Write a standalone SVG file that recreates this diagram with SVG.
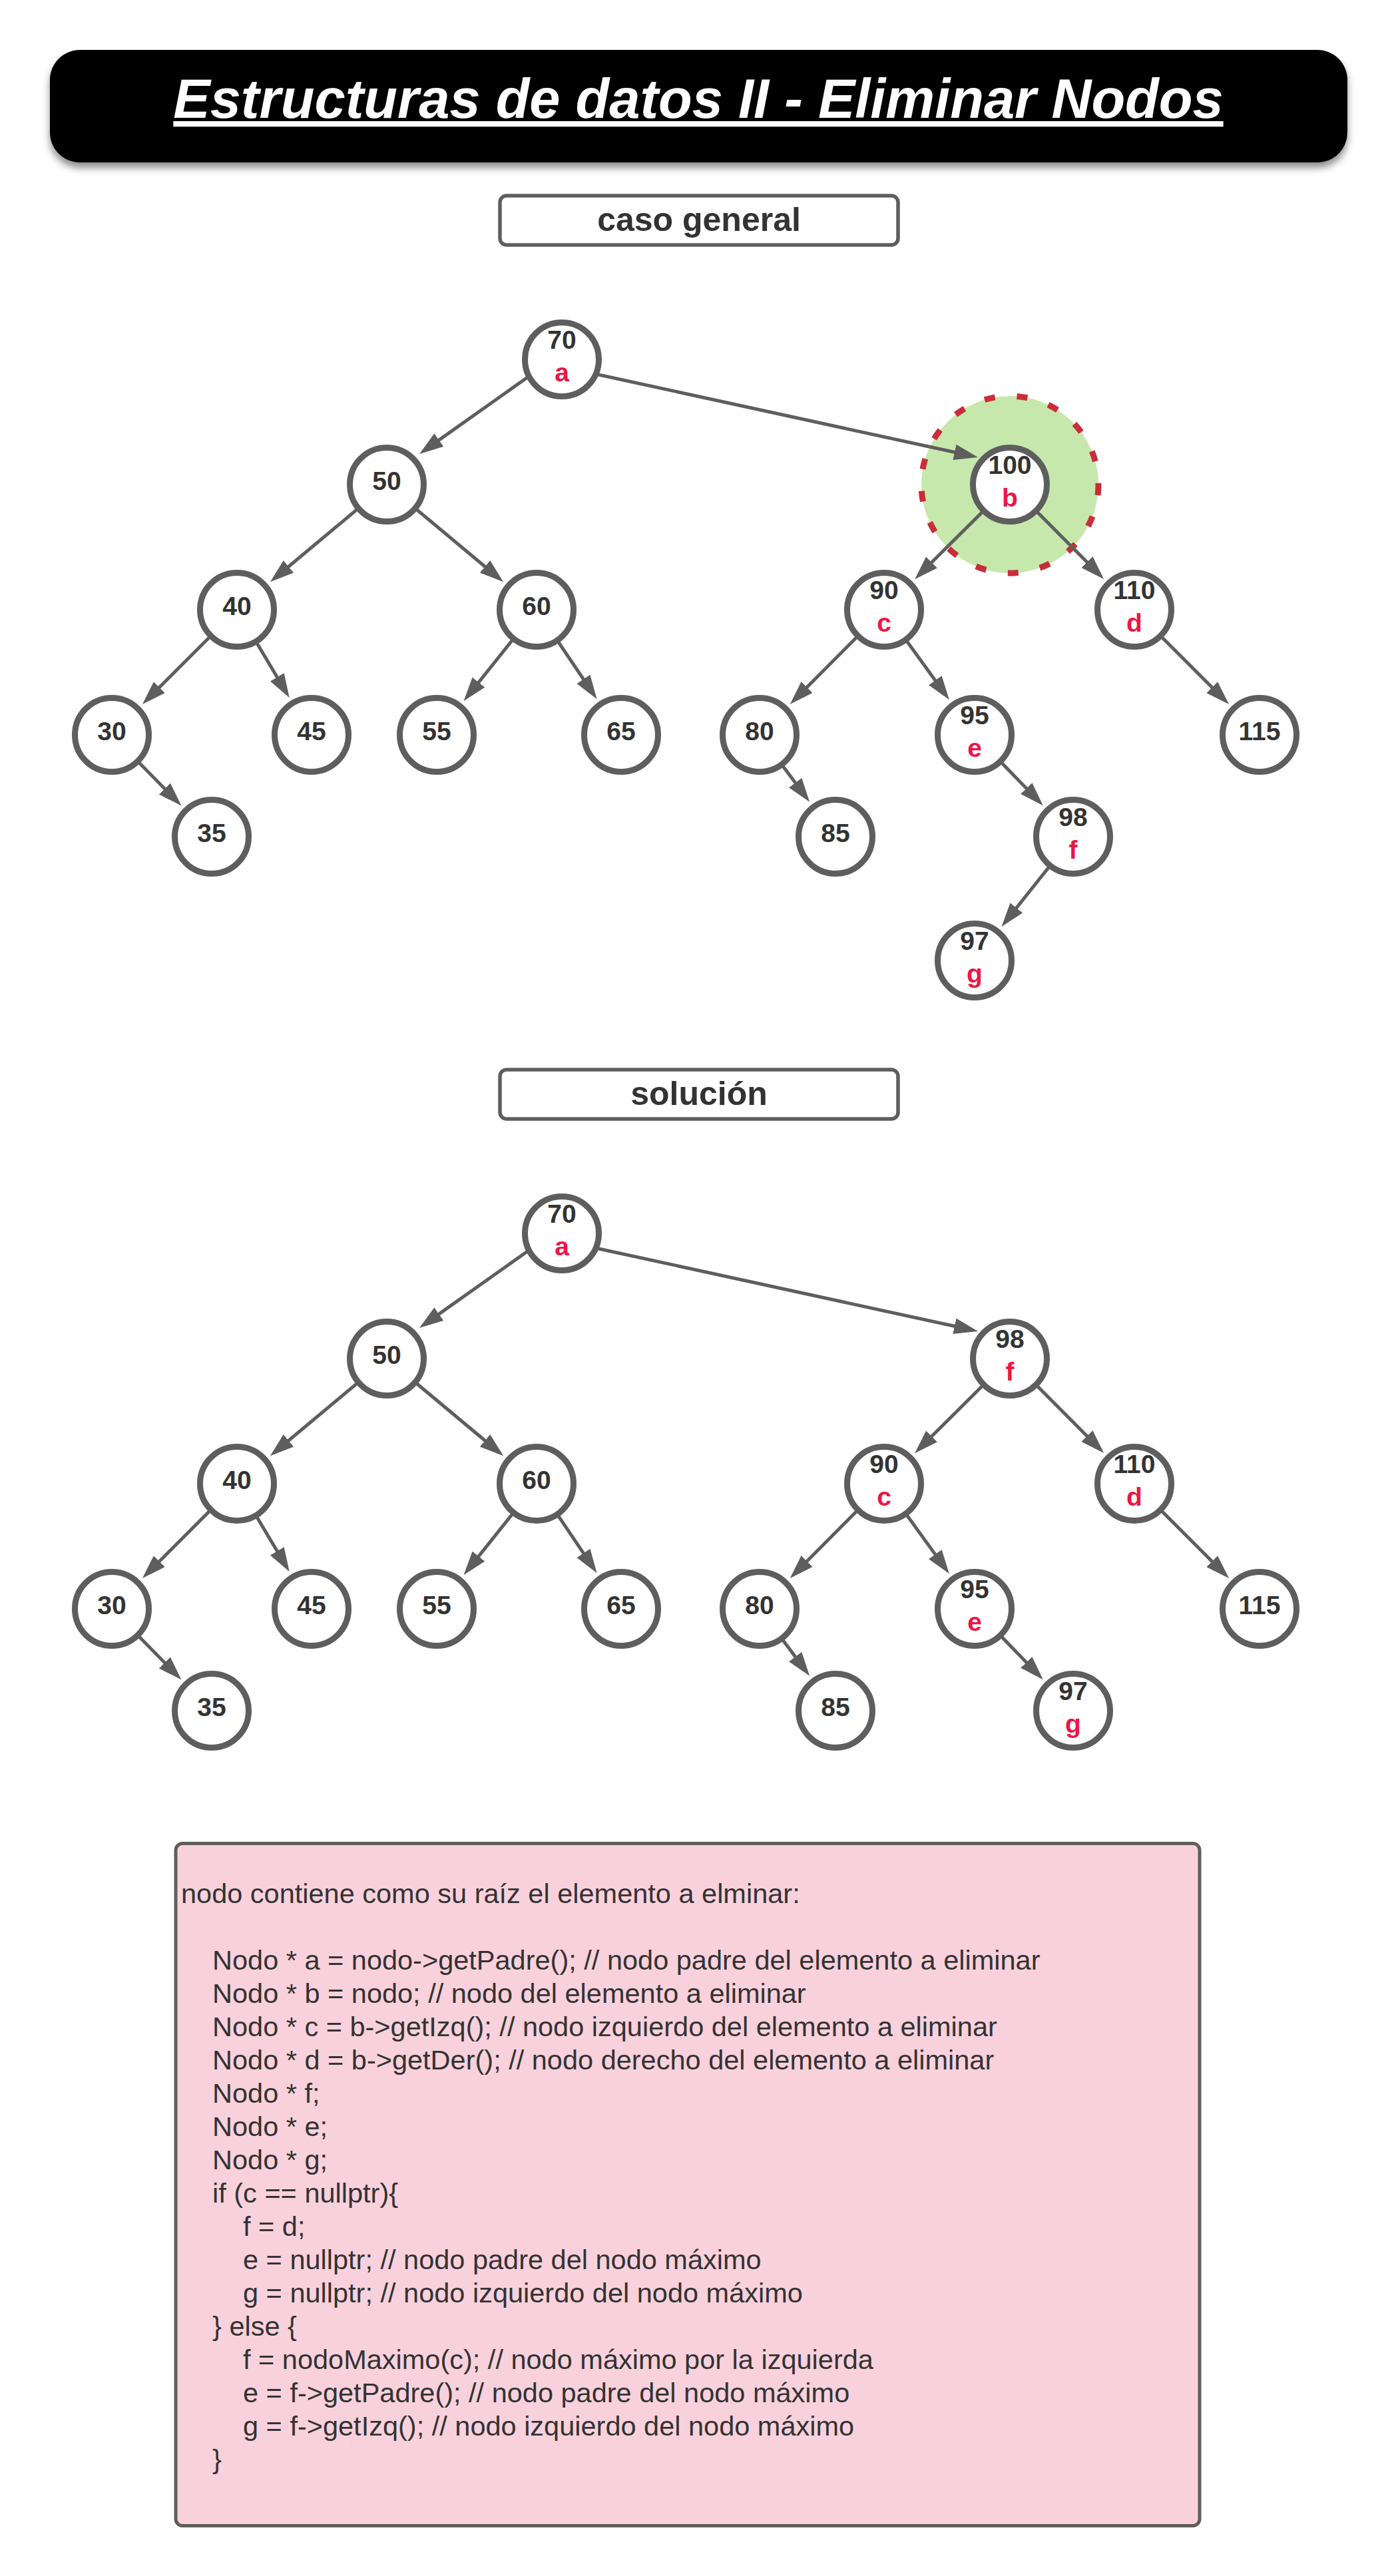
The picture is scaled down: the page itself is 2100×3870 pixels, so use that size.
<svg xmlns="http://www.w3.org/2000/svg" width="2100" height="3870" viewBox="0 0 2100 3870">
<defs>
<style>
.node circle{fill:#ffffff;stroke:#5e5e5e;stroke-width:9}
.num{font-family:"Liberation Sans",Arial,sans-serif;font-weight:bold;font-size:39px;fill:#333333;text-anchor:middle}
.lbl{font-family:"Liberation Sans",Arial,sans-serif;font-weight:bold;font-size:39px;fill:#ee1547;text-anchor:middle}
.edge{stroke:#5e5e5e;stroke-width:5;fill:none;marker-end:url(#ah)}
.box{fill:#ffffff;stroke:#5e5e5e;stroke-width:5.5}
.hdr{font-family:"Liberation Sans",Arial,sans-serif;font-weight:bold;font-size:50px;fill:#333333;text-anchor:middle}
.code{font-family:"Liberation Sans",Arial,sans-serif;font-size:41.5px;fill:#333333}
</style>
<marker id="ah" markerUnits="userSpaceOnUse" markerWidth="36" markerHeight="24" viewBox="0 0 36 24" refX="16" refY="12" orient="auto">
<path d="M0,0 L36,12 L0,24 z" fill="#5e5e5e"/>
</marker>
<filter id="shadow" x="-5%" y="-20%" width="110%" height="150%">
<feDropShadow dx="0" dy="8" stdDeviation="6" flood-color="#000000" flood-opacity="0.45"/>
</filter>
</defs>

<g id="title">
<rect x="75" y="75" width="1949" height="169" rx="45" ry="45" fill="#000000" filter="url(#shadow)"/>
<text x="1049" y="177" font-family="'Liberation Sans',Arial,sans-serif" font-weight="bold" font-style="italic" font-size="83" fill="#ffffff" text-anchor="middle" text-decoration="underline">Estructuras de datos II - Eliminar Nodos</text>
</g>

<g id="label-caso-general">
<rect class="box" x="751" y="294" width="598" height="74" rx="10" ry="10"/>
<text class="hdr" x="1050" y="347">caso general</text>
</g>

<g id="highlight-b">
<circle cx="1517" cy="728" r="133" fill="#c7e8ac" stroke="#c92d39" stroke-width="9" stroke-dasharray="16 33"/>
</g>

<g id="connectors">
<path class="edge" d="M795,565 L646.3,670.4"/>
<path class="edge" d="M895,562 L1449.5,682.8"/>
<path class="edge" d="M581,728 L421.2,861.5"/>
<path class="edge" d="M581,728 L740.8,861.5"/>
<path class="edge" d="M356,916 L228.1,1043.9"/>
<path class="edge" d="M356,916 L424.5,1031"/>
<path class="edge" d="M806,916 L709,1037.6"/>
<path class="edge" d="M806,916 L885.4,1033.6"/>
<path class="edge" d="M168,1104 L258.5,1196.3"/>
<path class="edge" d="M1517,728 L1388.3,856.1"/>
<path class="edge" d="M1517,728 L1644.1,855.7"/>
<path class="edge" d="M1328,916 L1200.9,1043.7"/>
<path class="edge" d="M1328,916 L1414.2,1035.1"/>
<path class="edge" d="M1141,1104 L1204.2,1188.8"/>
<path class="edge" d="M1464,1104 L1552.9,1195.9"/>
<path class="edge" d="M1612,1257 L1516.9,1376.5"/>
<path class="edge" d="M1704,916 L1831.9,1043.9"/>

<path class="edge" d="M795,1878 L646.3,1983.4"/>
<path class="edge" d="M895,1875 L1449.5,1995.8"/>
<path class="edge" d="M581,2041 L421.2,2174.5"/>
<path class="edge" d="M581,2041 L740.8,2174.5"/>
<path class="edge" d="M356,2229 L228.1,2356.9"/>
<path class="edge" d="M356,2229 L424.5,2344"/>
<path class="edge" d="M806,2229 L709,2350.6"/>
<path class="edge" d="M806,2229 L885.4,2346.6"/>
<path class="edge" d="M168,2417 L258.5,2509.3"/>
<path class="edge" d="M1517,2041 L1388.3,2169.1"/>
<path class="edge" d="M1517,2041 L1644.1,2168.7"/>
<path class="edge" d="M1328,2229 L1200.9,2356.7"/>
<path class="edge" d="M1328,2229 L1414.2,2348.1"/>
<path class="edge" d="M1141,2417 L1204.2,2501.8"/>
<path class="edge" d="M1464,2417 L1552.9,2508.9"/>
<path class="edge" d="M1704,2229 L1831.9,2356.9"/>
</g>

<g id="tree1">
<g id="t1-n70" class="node"><circle cx="844" cy="540" r="55.5"/><text class="num" x="844" y="524">70</text><text class="lbl" x="844" y="573">a</text></g>
<g id="t1-n50" class="node"><circle cx="581" cy="728" r="55.5"/><text class="num" x="581" y="736">50</text></g>
<g id="t1-n100" class="node"><circle cx="1517" cy="728" r="55.5"/><text class="num" x="1517" y="712">100</text><text class="lbl" x="1517" y="761">b</text></g>
<g id="t1-n40" class="node"><circle cx="356" cy="916" r="55.5"/><text class="num" x="356" y="924">40</text></g>
<g id="t1-n60" class="node"><circle cx="806" cy="916" r="55.5"/><text class="num" x="806" y="924">60</text></g>
<g id="t1-n90" class="node"><circle cx="1328" cy="916" r="55.5"/><text class="num" x="1328" y="900">90</text><text class="lbl" x="1328" y="949">c</text></g>
<g id="t1-n110" class="node"><circle cx="1704" cy="916" r="55.5"/><text class="num" x="1704" y="900">110</text><text class="lbl" x="1704" y="949">d</text></g>
<g id="t1-n30" class="node"><circle cx="168" cy="1104" r="55.5"/><text class="num" x="168" y="1112">30</text></g>
<g id="t1-n45" class="node"><circle cx="468" cy="1104" r="55.5"/><text class="num" x="468" y="1112">45</text></g>
<g id="t1-n55" class="node"><circle cx="656" cy="1104" r="55.5"/><text class="num" x="656" y="1112">55</text></g>
<g id="t1-n65" class="node"><circle cx="933" cy="1104" r="55.5"/><text class="num" x="933" y="1112">65</text></g>
<g id="t1-n80" class="node"><circle cx="1141" cy="1104" r="55.5"/><text class="num" x="1141" y="1112">80</text></g>
<g id="t1-n95" class="node"><circle cx="1464" cy="1104" r="55.5"/><text class="num" x="1464" y="1088">95</text><text class="lbl" x="1464" y="1137">e</text></g>
<g id="t1-n115" class="node"><circle cx="1892" cy="1104" r="55.5"/><text class="num" x="1892" y="1112">115</text></g>
<g id="t1-n35" class="node"><circle cx="318" cy="1257" r="55.5"/><text class="num" x="318" y="1265">35</text></g>
<g id="t1-n85" class="node"><circle cx="1255" cy="1257" r="55.5"/><text class="num" x="1255" y="1265">85</text></g>
<g id="t1-n98" class="node"><circle cx="1612" cy="1257" r="55.5"/><text class="num" x="1612" y="1241">98</text><text class="lbl" x="1612" y="1290">f</text></g>
<g id="t1-n97" class="node"><circle cx="1464" cy="1443" r="55.5"/><text class="num" x="1464" y="1427">97</text><text class="lbl" x="1464" y="1476">g</text></g>
</g>

<g id="label-solucion">
<rect class="box" x="751" y="1607" width="598" height="74" rx="10" ry="10"/>
<text class="hdr" x="1050" y="1660">solución</text>
</g>

<g id="tree2">
<g id="t2-n70" class="node"><circle cx="844" cy="1853" r="55.5"/><text class="num" x="844" y="1837">70</text><text class="lbl" x="844" y="1886">a</text></g>
<g id="t2-n50" class="node"><circle cx="581" cy="2041" r="55.5"/><text class="num" x="581" y="2049">50</text></g>
<g id="t2-n98" class="node"><circle cx="1517" cy="2041" r="55.5"/><text class="num" x="1517" y="2025">98</text><text class="lbl" x="1517" y="2074">f</text></g>
<g id="t2-n40" class="node"><circle cx="356" cy="2229" r="55.5"/><text class="num" x="356" y="2237">40</text></g>
<g id="t2-n60" class="node"><circle cx="806" cy="2229" r="55.5"/><text class="num" x="806" y="2237">60</text></g>
<g id="t2-n90" class="node"><circle cx="1328" cy="2229" r="55.5"/><text class="num" x="1328" y="2213">90</text><text class="lbl" x="1328" y="2262">c</text></g>
<g id="t2-n110" class="node"><circle cx="1704" cy="2229" r="55.5"/><text class="num" x="1704" y="2213">110</text><text class="lbl" x="1704" y="2262">d</text></g>
<g id="t2-n30" class="node"><circle cx="168" cy="2417" r="55.5"/><text class="num" x="168" y="2425">30</text></g>
<g id="t2-n45" class="node"><circle cx="468" cy="2417" r="55.5"/><text class="num" x="468" y="2425">45</text></g>
<g id="t2-n55" class="node"><circle cx="656" cy="2417" r="55.5"/><text class="num" x="656" y="2425">55</text></g>
<g id="t2-n65" class="node"><circle cx="933" cy="2417" r="55.5"/><text class="num" x="933" y="2425">65</text></g>
<g id="t2-n80" class="node"><circle cx="1141" cy="2417" r="55.5"/><text class="num" x="1141" y="2425">80</text></g>
<g id="t2-n95" class="node"><circle cx="1464" cy="2417" r="55.5"/><text class="num" x="1464" y="2401">95</text><text class="lbl" x="1464" y="2450">e</text></g>
<g id="t2-n115" class="node"><circle cx="1892" cy="2417" r="55.5"/><text class="num" x="1892" y="2425">115</text></g>
<g id="t2-n35" class="node"><circle cx="318" cy="2570" r="55.5"/><text class="num" x="318" y="2578">35</text></g>
<g id="t2-n85" class="node"><circle cx="1255" cy="2570" r="55.5"/><text class="num" x="1255" y="2578">85</text></g>
<g id="t2-n97" class="node"><circle cx="1612" cy="2570" r="55.5"/><text class="num" x="1612" y="2554">97</text><text class="lbl" x="1612" y="2603">g</text></g>
</g>

<g id="code-note">
<rect x="264" y="2769.5" width="1538" height="1025" rx="10" ry="10" fill="#f9d1dc" stroke="#5e5e5e" stroke-width="5"/>
<text class="code" x="272" y="2859">nodo contiene como su raíz el elemento a elminar:</text>
<text class="code" x="319" y="2959">Nodo * a = nodo-&gt;getPadre(); // nodo padre del elemento a eliminar</text>
<text class="code" x="319" y="3009">Nodo * b = nodo; // nodo del elemento a eliminar</text>
<text class="code" x="319" y="3059">Nodo * c = b-&gt;getIzq(); // nodo izquierdo del elemento a eliminar</text>
<text class="code" x="319" y="3109">Nodo * d = b-&gt;getDer(); // nodo derecho del elemento a eliminar</text>
<text class="code" x="319" y="3159">Nodo * f;</text>
<text class="code" x="319" y="3209">Nodo * e;</text>
<text class="code" x="319" y="3259">Nodo * g;</text>
<text class="code" x="319" y="3309">if (c == nullptr){</text>
<text class="code" x="365" y="3359">f = d;</text>
<text class="code" x="365" y="3409">e = nullptr; // nodo padre del nodo máximo</text>
<text class="code" x="365" y="3459">g = nullptr; // nodo izquierdo del nodo máximo</text>
<text class="code" x="319" y="3509">} else {</text>
<text class="code" x="365" y="3559">f = nodoMaximo(c); // nodo máximo por la izquierda</text>
<text class="code" x="365" y="3609">e = f-&gt;getPadre(); // nodo padre del nodo máximo</text>
<text class="code" x="365" y="3659">g = f-&gt;getIzq(); // nodo izquierdo del nodo máximo</text>
<text class="code" x="319" y="3709">}</text>
</g>
</svg>
